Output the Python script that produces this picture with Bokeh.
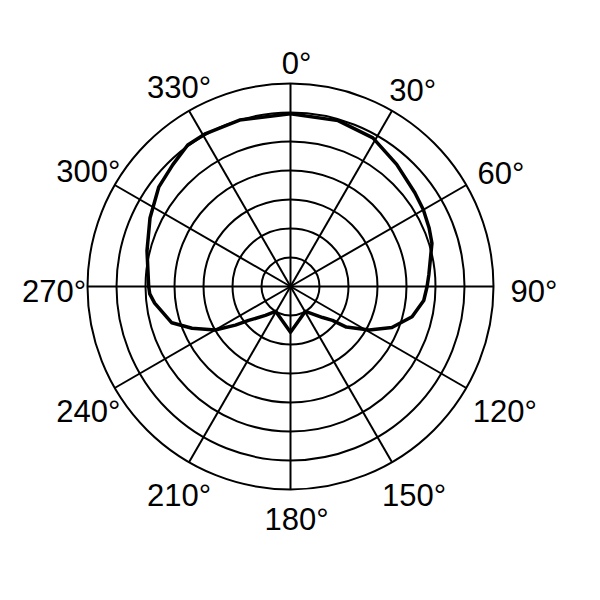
import math

from bokeh.core.properties import value
from bokeh.embed import file_html
from bokeh.models import Range1d
from bokeh.plotting import figure
from bokeh.resources import INLINE

# polar pattern, level in ring units (7 rings)
pattern_angle = [0, 16, 29, 41, 53, 60, 67, 73, 85, 90, 96, 104, 112, 119,
                 126, 129, 134, 149, 180, 211, 221, 231, 235, 240, 247, 253,
                 263, 267, 270, 284, 296, 307, 316, 324, 331, 343]
pattern_level = [5.96, 5.95, 5.86, 5.58, 5.37, 5.29, 5.19, 5.10, 4.79, 4.71,
                 4.62, 4.32, 3.77, 3.10, 2.38, 1.86, 1.54, 1.0, 1.58, 1.0,
                 1.32, 1.86, 2.32, 3.0, 3.69, 4.28, 4.72, 4.86, 4.89, 5.10,
                 5.39, 5.69, 5.84, 6.03, 6.03, 6.0]

ring_levels = [1, 2, 3, 4, 5, 6, 7]
spoke_angles = [0, 30, 60, 90, 120, 150, 180, 210, 240, 270, 300, 330]
angle_labels = ["0", "30", "60", "90", "120", "150", "180", "210", "240",
                "270", "300", "330"]

px = 29.0  # pixels per ring
p = figure(width=584, height=584,
           x_range=Range1d(-290 / px, 294 / px),
           y_range=Range1d(-298 / px, 286 / px),
           output_backend="svg", toolbar_location=None, min_border=0)
p.axis.visible = False
p.grid.visible = False
p.outline_line_color = None

outer = ring_levels[-1]

p.circle(x=[0] * len(ring_levels), y=[0] * len(ring_levels),
         radius=ring_levels, fill_color=None,
         line_color="black", line_width=2)

p.segment(x0=[0] * len(spoke_angles), y0=[0] * len(spoke_angles),
          x1=[outer * math.sin(math.radians(a)) for a in spoke_angles],
          y1=[outer * math.cos(math.radians(a)) for a in spoke_angles],
          line_color="black", line_width=2)

curve_x = [r * math.sin(math.radians(a))
           for a, r in zip(pattern_angle, pattern_level)]
curve_y = [r * math.cos(math.radians(a))
           for a, r in zip(pattern_angle, pattern_level)]
curve_x.append(curve_x[0])
curve_y.append(curve_y[0])
p.line(curve_x, curve_y, line_color="black", line_width=3.5,
       line_join="round")

label_x = []
label_y = []
for a, lab in zip(spoke_angles, angle_labels):
    s = math.sin(math.radians(a))
    c = math.cos(math.radians(a))
    r = 7.85 + 0.17 * len(lab) * abs(s)
    label_x.append(r * s)
    label_y.append(r * c - 5 / px)

p.text(label_x, label_y, text=[lab + "°" for lab in angle_labels],
       text_align="center", text_baseline="middle", x_offset=6,
       text_font=value("Liberation Sans"), text_font_size="31px",
       text_color="black")

open("out.html", "w").write(file_html(p, INLINE))
